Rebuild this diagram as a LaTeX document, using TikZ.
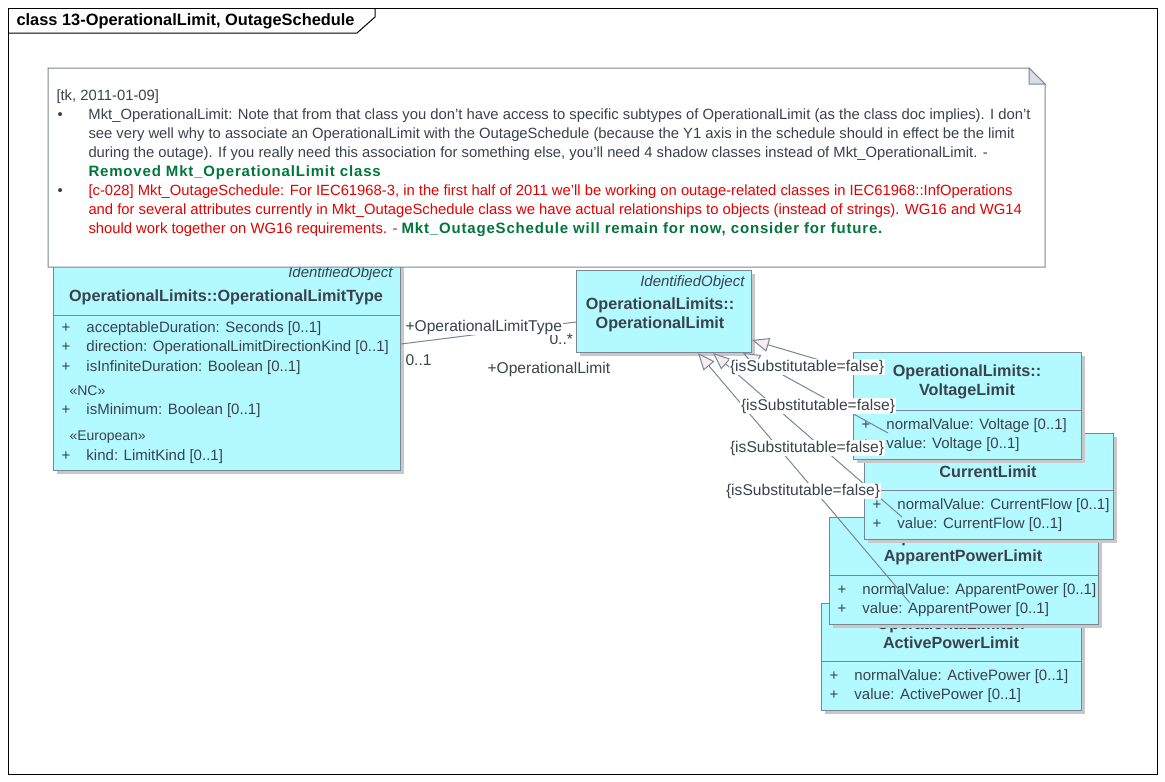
\documentclass[tikz,border=0pt]{standalone}
\usepackage{fontspec}
\setmainfont{Liberation Sans}
\usetikzlibrary{arrows.meta,shadows}
\definecolor{umlfill}{RGB}{178,250,255}
\definecolor{umlborder}{RGB}{122,134,148}
\definecolor{umltext}{RGB}{58,66,76}
\definecolor{umlshadow}{RGB}{200,200,200}
\definecolor{notered}{RGB}{228,0,0}
\definecolor{notegreen}{RGB}{0,118,60}
\definecolor{genfill}{RGB}{246,238,238}
\definecolor{earfill}{RGB}{216,222,228}
\newcommand{\umlfont}{\fontsize{15}{19.5}\selectfont}
\newcommand{\stereofont}{\fontsize{14}{19.5}\selectfont}
\newcommand{\tagfont}{\fontsize{15.6}{18}\selectfont}
\newcommand{\titlefont}{\fontsize{16.2}{19}\selectfont\bfseries}
\newcommand{\parentfont}{\fontsize{15}{15}\selectfont\itshape}
\newcommand{\notefont}{\fontsize{14.8}{19}\selectfont}
\newcommand{\noteboldfont}{\fontsize{15}{19}\selectfont\bfseries\addfontfeature{LetterSpace=5.5}}
\newcommand{\tabfont}{\fontsize{16.4}{17}\selectfont\bfseries}
\tikzset{framebox/.style = {shape=rectangle, draw=black, anchor=north west, inner sep=0pt}}
\tikzset{classbox/.style = {shape=rectangle, draw=umlborder, fill=umlfill, anchor=north west, inner sep=0pt,
  drop shadow={shadow xshift=3pt, shadow yshift=-3pt, fill=umlshadow, opacity=1}}}
\tikzset{sepline/.style = {draw=umlborder}}
\tikzset{classtitle/.style = {align=center, text=umltext, font=\titlefont, inner sep=0pt}}
\tikzset{parentname/.style = {anchor=north east, text=umltext, font=\parentfont, inner sep=0pt}}
\tikzset{attrs/.style = {anchor=north west, text=umltext, font=\umlfont, inner sep=0pt}}
\tikzset{genline/.style = {draw=umlborder, -{Triangle[length=17pt, width=14pt, fill=genfill]}}}
\tikzset{assoc/.style = {draw=umlborder}}
\tikzset{tag/.style = {fill=white, text=umltext, font=\tagfont, inner sep=1pt}}
\tikzset{notebox/.style = {shape=rectangle, anchor=north west, inner sep=0pt}}
\tikzset{noteline/.style = {draw=umlborder, fill=white}}
\tikzset{notetext/.style = {anchor=north west, text=umltext, font=\notefont, inner sep=0pt}}

\begin{document}
\begin{tikzpicture}[x=1pt, y=-1pt, line width=1pt]
\fill[white] (0,0) rectangle (1165,782);
\useasboundingbox (0,0) rectangle (1165,782);
% frame
\node[framebox, minimum width=1149pt, minimum height=766pt] (frame) at (8,8) {};
\draw[black] ([xshift=367pt]frame.north west) -- ([xshift=367pt,yshift=-9pt]frame.north west)
  -- ([xshift=349pt,yshift=-25pt]frame.north west) -- ([yshift=-25pt]frame.north west);
\node[anchor=west, font=\tabfont, inner sep=0pt] (diagname) at (16,21) {class 13-OperationalLimit, OutageSchedule};

% classes
\node[classbox, minimum width=347pt, minimum height=210pt] (limtype) at (53,260) {};
\draw[sepline] ([yshift=-55pt]limtype.north west) -- ([yshift=-55pt]limtype.north east);
\node[parentname] (limtypeparent) at (393,266) {IdentifiedObject};
\node[classtitle] (limtypename) at (226,297) {OperationalLimits::OperationalLimitType};
\node[attrs] (limtypeattrs) at (53,318) {\begin{tabular}{@{\hspace{8pt}}p{25pt}@{}l@{}}
+ & acceptableDuration: Seconds [0..1]\\
+ & direction: OperationalLimitDirectionKind [0..1]\\
+ & isInfiniteDuration: Boolean [0..1]\\[4.5pt]
\multicolumn{2}{@{\hspace{16pt}}l@{}}{\stereofont «NC»}\\
+ & isMinimum: Boolean [0..1]\\[6.5pt]
\multicolumn{2}{@{\hspace{16pt}}l@{}}{\stereofont «European»}\\
+ & kind: LimitKind [0..1]
\end{tabular}};

\node[classbox, minimum width=175pt, minimum height=82pt] (oplimit) at (576,270) {};
\node[parentname] (oplimitparent) at (745,275) {IdentifiedObject};
\node[classtitle] (oplimitname) at (660,314.5) {OperationalLimits::\\OperationalLimit};

\node[classbox, minimum width=260pt, minimum height=107pt] (activelim) at (821,603) {};
\draw[sepline] ([yshift=-58pt]activelim.north west) -- ([yshift=-58pt]activelim.north east);
\node[classtitle] (activename) at (951,633.5) {OperationalLimits::\\ActivePowerLimit};
\node[attrs] (activeattrs) at (821,666) {\begin{tabular}{@{\hspace{8pt}}p{25pt}@{}l@{}}
+ & normalValue: ActivePower [0..1]\\
+ & value: ActivePower [0..1]
\end{tabular}};

\node[classbox, minimum width=269pt, minimum height=107pt] (apparentlim) at (829,517) {};
\draw[sepline] ([yshift=-58pt]apparentlim.north west) -- ([yshift=-58pt]apparentlim.north east);
\node[classtitle] (apparentname) at (963,547.5) {OperationalLimits::\\ApparentPowerLimit};
\node[attrs] (apparentattrs) at (829,580) {\begin{tabular}{@{\hspace{8pt}}p{25pt}@{}l@{}}
+ & normalValue: ApparentPower [0..1]\\
+ & value: ApparentPower [0..1]
\end{tabular}};

\node[classbox, minimum width=249pt, minimum height=106pt] (currentlim) at (864,433) {};
\draw[sepline] ([yshift=-57pt]currentlim.north west) -- ([yshift=-57pt]currentlim.north east);
\node[classtitle] (currentname) at (988,462.5) {OperationalLimits::\\CurrentLimit};
\node[attrs] (currentattrs) at (864,495) {\begin{tabular}{@{\hspace{8pt}}p{25pt}@{}l@{}}
+ & normalValue: CurrentFlow [0..1]\\
+ & value: CurrentFlow [0..1]
\end{tabular}};

\node[classbox, minimum width=228pt, minimum height=107pt] (voltagelim) at (853,352) {};
\draw[sepline] ([yshift=-58pt]voltagelim.north west) -- ([yshift=-58pt]voltagelim.north east);
\node[classtitle] (voltagename) at (967,381.5) {OperationalLimits::\\VoltageLimit};
\node[attrs] (voltageattrs) at (853,415) {\begin{tabular}{@{\hspace{8pt}}p{25pt}@{}l@{}}
+ & normalValue: Voltage [0..1]\\
+ & value: Voltage [0..1]
\end{tabular}};

% generalizations
\draw[genline] ([yshift=-18pt]voltagelim.north west) -- ([yshift=13pt]oplimit.south east);
\draw[genline] ([xshift=24pt]currentlim.north west) -- ([xshift=-9pt]oplimit.south east);
\draw[genline] ([xshift=73pt]apparentlim.north west) -- ([xshift=-39pt]oplimit.south east);
\draw[genline] ([xshift=89pt]activelim.north west) -- ([xshift=-54pt]oplimit.south east);
\node[tag] (subst1) at (807,367) {\{isSubstitutable=false\}};
\node[tag] (subst2) at (818,406) {\{isSubstitutable=false\}};
\node[tag] (subst3) at (807,448) {\{isSubstitutable=false\}};
\node[tag] (subst4) at (803,491) {\{isSubstitutable=false\}};

% association
\draw[assoc] ([yshift=127pt]limtype.south east) -- ([yshift=31pt]oplimit.south west);
\node[tag, anchor=west, fill=none] (multlimit) at (548,339) {0..*};
\node[tag, anchor=west] (roletype) at (404,327) {+OperationalLimitType};
\node[tag, anchor=west, fill=none] (multtype) at (404,360) {0..1};
\node[tag, anchor=west] (rolelimit) at (486,369) {+OperationalLimit};

% note
\node[notebox, minimum width=996pt, minimum height=198pt] (note) at (48,68) {};
\draw[noteline] (note.north west) -- ([xshift=-16pt]note.north east) -- ([yshift=-16pt]note.north east)
  -- (note.south east) -- (note.south west) -- cycle;
\draw[draw=umlborder, fill=earfill] ([xshift=-16pt]note.north east) -- ([yshift=-16pt]note.north east)
  -- ([xshift=-16pt,yshift=-16pt]note.north east) -- cycle;
\node[notetext] (notebody) at (56,87) {\begin{tabular}{@{}p{32pt}@{}l@{}}
\multicolumn{2}{@{}l@{}}{[tk, 2011-01-09]}\\
\hspace{1pt}\textbullet & Mkt\_OperationalLimit: Note that from that class you don't have access to specific subtypes of OperationalLimit (as the class doc implies). I don't\\
 & see very well why to associate an OperationalLimit with the OutageSchedule (because the Y1 axis in the schedule should in effect be the limit\\
 & during the outage). If you really need this association for something else, you'll need 4 shadow classes instead of Mkt\_OperationalLimit. -\\
 & \textcolor{notegreen}{\noteboldfont Removed Mkt\_OperationalLimit class}\\
\hspace{1pt}\textbullet & \textcolor{notered}{[c-028] Mkt\_OutageSchedule: For IEC61968-3, in the first half of 2011 we'll be working on outage-related classes in IEC61968::InfOperations}\\
 & \textcolor{notered}{and for several attributes currently in Mkt\_OutageSchedule class we have actual relationships to objects (instead of strings). WG16 and WG14}\\
 & \textcolor{notered}{should work together on WG16 requirements. -} \textcolor{notegreen}{\noteboldfont Mkt\_OutageSchedule will remain for now, consider for future.}
\end{tabular}};
\end{tikzpicture}
\end{document}
